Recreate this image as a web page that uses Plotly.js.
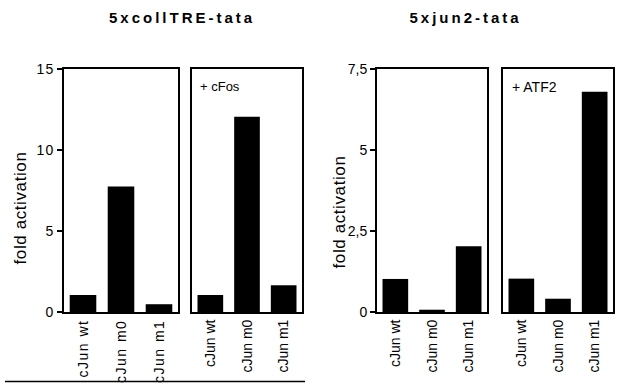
<!DOCTYPE html>
<html><head><meta charset="utf-8">
<script src="https://cdn.plot.ly/plotly-3.0.1.min.js"></script>
<style>
html,body{margin:0;padding:0;background:#fff}
.xtick text{letter-spacing:1.5px}
.ytick text{letter-spacing:1px}
</style>
</head><body>
<div id="chart" style="width:618px;height:387px"></div>
<script>
const categories = ["cJun wt", "cJun m0", "cJun m1"];
const collTRE_alone = [1.05, 7.75, 0.48];
const collTRE_cFos = [1.05, 12.05, 1.65];
const jun2_alone = [1.02, 0.07, 2.03];
const jun2_ATF2 = [1.03, 0.41, 6.8];
const leftTicks = [0, 5, 10, 15];
const leftTickText = ["0", "5", "10", "15"];
const rightTicks = [0, 2.5, 5, 7.5];
const rightTickText = ["0", "2,5", "5", "7,5"];

const W = 618, H = 387;
const px = v => v / W, py = v => 1 - v / H;
const FONT = "Liberation Sans, Arial, sans-serif";

function bar(y, xa, ya) {
  return {type: "bar", x: categories, y: y, xaxis: xa, yaxis: ya,
    marker: {color: "#000", line: {width: 0}}, hoverinfo: "none", showlegend: false};
}
const data = [
  bar(collTRE_alone, "x", "y"),
  bar(collTRE_cFos, "x2", "y2"),
  bar(jun2_alone, "x3", "y3"),
  bar(jun2_ATF2, "x4", "y4")
];

const yDom = [py(312), py(69)];
function xax(d0, d1, anchor) {
  return {domain: [px(d0), px(d1)], anchor: anchor, type: "category", range: [-0.5, 2.5],
    showline: true, linecolor: "#000", linewidth: 2, mirror: true, ticks: "",
    tickangle: -90, tickfont: {family: FONT, size: 14, color: "#000"}, showgrid: false, zeroline: false,
    fixedrange: true};
}
function yax(anchor, range, tv, tt, showTicks) {
  return {domain: yDom, anchor: anchor, range: range, showline: true, linecolor: "#000", linewidth: 2,
    mirror: true, showgrid: false, zeroline: false,
    ticks: showTicks ? "outside" : "", ticklen: 5, tickwidth: 1.5, tickcolor: "#000",
    tickvals: tv, ticktext: tt, showticklabels: showTicks,
    tickfont: {family: FONT, size: 14, color: "#000"}, fixedrange: true};
}

const layout = {
  width: W, height: H,
  margin: {l: 0, r: 0, t: 0, b: 0},
  paper_bgcolor: "#fff", plot_bgcolor: "#fff",
  bargap: 0.3,
  xaxis: xax(64, 178, "y"),
  xaxis2: xax(192, 302, "y2"),
  xaxis3: xax(377, 487, "y3"),
  xaxis4: xax(503, 613, "y4"),
  yaxis: yax("x", [0, 15], leftTicks, leftTickText, true),
  yaxis2: yax("x2", [0, 15], leftTicks, leftTickText, false),
  yaxis3: yax("x3", [0, 7.5], rightTicks, rightTickText, true),
  yaxis4: yax("x4", [0, 7.5], rightTicks, rightTickText, false),
  annotations: [
    {text: "5xcollTRE-tata", xref: "paper", yref: "paper", x: px(182), y: py(18), xanchor: "center", yanchor: "middle",
      showarrow: false, font: {family: FONT, size: 15, weight: "bold", color: "#000"}},
    {text: "5xjun2-tata", xref: "paper", yref: "paper", x: px(466), y: py(18), xanchor: "center", yanchor: "middle",
      showarrow: false, font: {family: FONT, size: 15, weight: "bold", color: "#000"}},
    {text: "fold activation", xref: "paper", yref: "paper", x: px(20), y: py(208), textangle: -90,
      xanchor: "center", yanchor: "middle", showarrow: false, font: {family: FONT, size: 17, color: "#000"}},
    {text: "fold activation", xref: "paper", yref: "paper", x: px(339), y: py(212), textangle: -90,
      xanchor: "center", yanchor: "middle", showarrow: false, font: {family: FONT, size: 17, color: "#000"}},
    {text: "+ cFos", xref: "paper", yref: "paper", x: px(198), y: py(86), xanchor: "left", yanchor: "middle",
      showarrow: false, font: {family: FONT, size: 13, color: "#000"}},
    {text: "+ ATF2", xref: "paper", yref: "paper", x: px(510), y: py(87), xanchor: "left", yanchor: "middle",
      showarrow: false, font: {family: FONT, size: 14, color: "#000"}}
  ],
  shapes: [
    {type: "line", xref: "paper", yref: "paper", x0: px(5), x1: px(305), y0: py(381.5), y1: py(381.5),
      line: {color: "#000", width: 1.5}}
  ]
};

Plotly.newPlot("chart", data, layout, {staticPlot: true, displayModeBar: false}).then(function () {
  document.querySelectorAll("text.annotation-text").forEach(function (t) {
    if (t.textContent === "5xcollTRE-tata" || t.textContent === "5xjun2-tata") {
      t.style.letterSpacing = "3px";
    } else if (t.textContent === "fold activation") {
      t.style.letterSpacing = "0.6px";
    }
  });
});
</script>
</body></html>
